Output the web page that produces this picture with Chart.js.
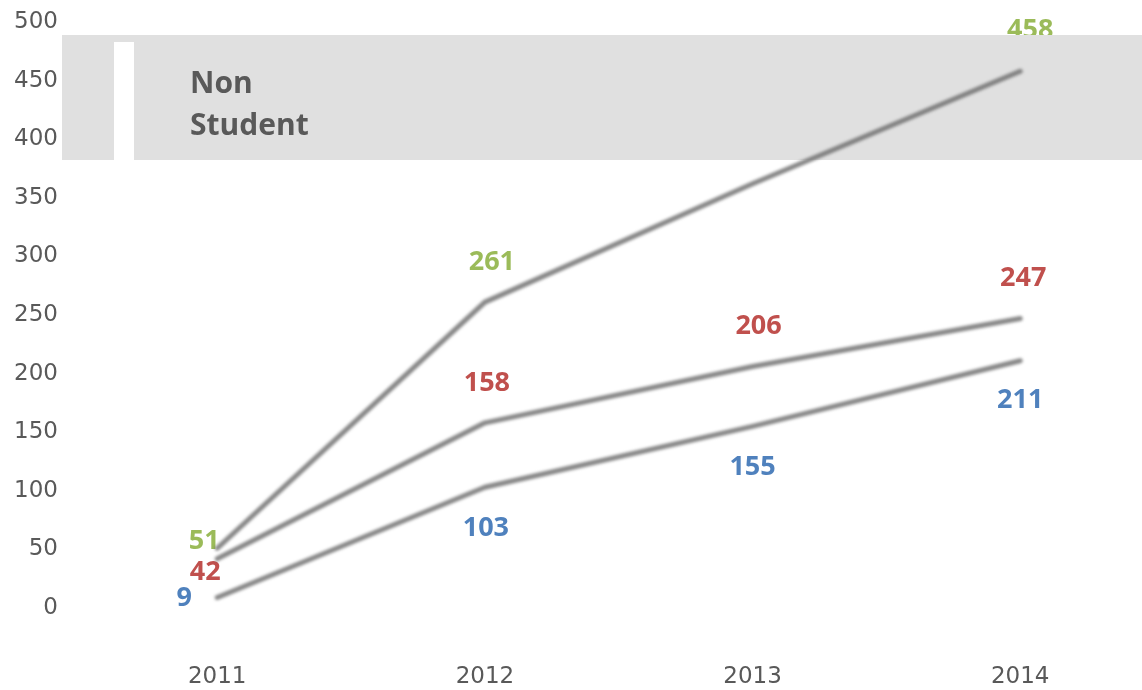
<!DOCTYPE html>
<html>
<head>
<meta charset="utf-8">
<script src="https://cdn.jsdelivr.net/npm/chart.js@4/dist/chart.umd.min.js"></script>
<style>
  html, body { margin: 0; padding: 0; background: #fff; }
  #wrap { width: 1142px; height: 690px; }
</style>
</head>
<body>
<div id="wrap"><canvas id="c"></canvas></div>
<script>
// chart values
const years = [2011, 2012, 2013, 2014];
const nonStudentGreen = [51, 261, 362, 458];
const nonStudentRed = [42, 158, 206, 247];
const nonStudentBlue = [9, 103, 155, 211];
const yTicks = [0, 50, 100, 150, 200, 250, 300, 350, 400, 450, 500];
const boxTitle = ['Non', 'Student'];

const GREEN = '#9BBB59', RED = '#C0504D', BLUE = '#4F81BD', TXT = '#595959';

// where each value label sits relative to its point
const labelOffsets = [
  [[-13, -7], [7, -40], [6, -40], [10, -41]],
  [[-12, 14], [2, -40], [6, -40], [3, -40]],
  [[-33, 1], [1, 41], [0, 41], [0, 40]]
];

const toPoints = (vals) => vals.map((v, i) => ({ x: years[i], y: v }));

// labels + grey box go under the lines, lines get blurred
const decor = {
  id: 'decor',
  beforeDatasetsDraw(chart) {
    const ctx = chart.ctx;
    ctx.save();
    ctx.font = 'bold 27px "Open Sans"';
    ctx.textAlign = 'center';
    ctx.textBaseline = 'middle';
    chart.data.datasets.forEach((ds, di) => {
      const meta = chart.getDatasetMeta(di);
      meta.data.forEach((pt, i) => {
        const off = labelOffsets[di][i];
        ctx.fillStyle = ds.labelColor;
        ctx.fillText(String(ds.data[i].y), pt.x + off[0], pt.y + off[1]);
      });
    });

    // title box
    ctx.fillStyle = '#e0e0e0';
    ctx.fillRect(62, 35, 1080, 125);
    ctx.fillStyle = '#ffffff';
    ctx.fillRect(114, 42, 20, 118);
    ctx.fillStyle = TXT;
    ctx.textAlign = 'left';
    ctx.font = 'bold 30px "Open Sans"';
    ctx.fillText(boxTitle[0], 190, 84);
    ctx.fillText(boxTitle[1], 190, 126);
    ctx.restore();

    ctx.save();
    ctx.filter = 'blur(1.8px)';
  },
  afterDatasetsDraw(chart) {
    chart.ctx.restore();
  }
};

const lineStyle = {
  borderColor: 'rgba(105,105,105,0.8)',
  borderWidth: 5,
  borderCapStyle: 'round',
  borderJoinStyle: 'round',
  pointRadius: 0,
  tension: 0,
  fill: false
};

new Chart(document.getElementById('c'), {
  type: 'line',
  data: {
    datasets: [
      { ...lineStyle, data: toPoints(nonStudentGreen), labelColor: GREEN },
      { ...lineStyle, data: toPoints(nonStudentRed), labelColor: RED },
      { ...lineStyle, data: toPoints(nonStudentBlue), labelColor: BLUE }
    ]
  },
  options: {
    responsive: true,
    maintainAspectRatio: false,
    animation: false,
    layout: { padding: { top: 22, right: 0, left: 0, bottom: 0 } },
    plugins: { legend: { display: false }, tooltip: { enabled: false } },
    scales: {
      x: {
        type: 'linear',
        min: 2010.42,
        max: 2014.455,
        grid: { display: false, drawTicks: false },
        border: { display: false },
        afterBuildTicks: (s) => { s.ticks = years.map(v => ({ value: v })); },
        afterFit: (s) => { s.height = 82; },
        ticks: {
          padding: 55,
          color: TXT,
          font: { family: '"DejaVu Sans"', size: 23 },
          callback: (v) => String(v),
          maxRotation: 0,
          autoSkip: false
        }
      },
      y: {
        min: 0,
        max: 500,
        grid: { display: false, drawTicks: false },
        border: { display: false },
        afterBuildTicks: (s) => { s.ticks = yTicks.map(v => ({ value: v })); },
        afterFit: (s) => { s.width = 62; },
        ticks: {
          padding: 4,
          color: TXT,
          font: { family: '"DejaVu Sans"', size: 23 }
        }
      }
    }
  },
  plugins: [decor]
});
</script>
</body>
</html>
